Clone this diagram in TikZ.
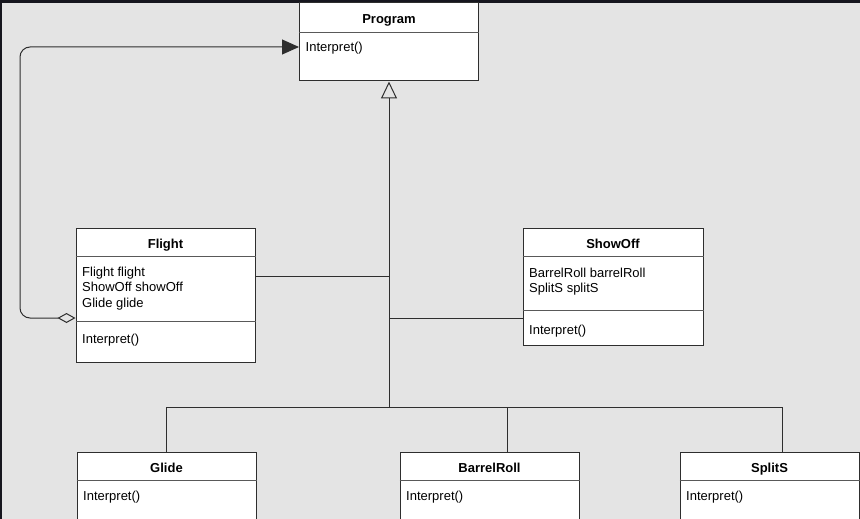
\documentclass[tikz,border=0pt]{standalone}
\usepackage{fontspec}
\setmainfont{Liberation Sans}
\usetikzlibrary{arrows.meta}
\definecolor{canvas}{HTML}{E4E4E4}
\definecolor{frameband}{HTML}{16161E}
\definecolor{edge}{HTML}{2E2E2E}
\tikzset{
  classbox/.style={draw=edge, line width=1pt, fill=white, minimum width=179pt, inner sep=0pt},
  classname/.style={font=\bfseries\fontsize{13}{15}\selectfont, anchor=base, inner sep=0pt},
  member/.style={font=\fontsize{13}{15.3}\selectfont, anchor=base west, align=left, inner sep=0pt},
  divider/.style={draw=black!65, line width=1pt},
  link/.style={draw=black!82, line width=1pt}
}
\def\classrule#1#2{\draw[divider] ([yshift=-#2]#1.north west) -- ([yshift=-#2]#1.north east);}

\begin{document}
\begin{tikzpicture}[x=1pt, y=-1pt]
		%%%%% START %%%%%
		
		\fill[canvas] (0, 0) rectangle (860, 519);
		\useasboundingbox (0, 0) rectangle (860, 519);
		\clip (0, 0) rectangle (860, 519);
		\fill[frameband] (0, 0) rectangle (860, 3);
		\fill[frameband] (0, 0) rectangle (1.5, 519);
		
		\node[classbox, minimum height=78pt] (program) at (389, 42) {};
		\node[classname] (programname) at ([yshift=-21pt]program.north) {Program};
		\classrule{program}{30pt}
		\node[member] (programop) at ([xshift=6.5pt, yshift=-49pt]program.north west) {Interpret()};
		
		\node[classbox, minimum height=134pt] (flight) at (165.5, 295) {};
		\node[classname] (flightname) at ([yshift=-21pt]flight.north) {Flight};
		\classrule{flight}{29pt}
		% base of a multi-line node sits on its last line
		\node[member] (flightattr) at ([xshift=6.5pt, yshift=-79.6pt]flight.north west) {Flight flight\\ShowOff showOff\\Glide glide};
		\classrule{flight}{94pt}
		\node[member] (flightop) at ([xshift=6.5pt, yshift=-116.3pt]flight.north west) {Interpret()};
		
		\node[classbox, minimum width=180pt, minimum height=117pt] (showoff) at (613, 286.5) {};
		\node[classname] (showoffname) at ([yshift=-21pt]showoff.north) {ShowOff};
		\classrule{showoff}{29pt}
		\node[member] (showoffattr) at ([xshift=6.5pt, yshift=-64.8pt]showoff.north west) {BarrelRoll barrelRoll\\SplitS splitS};
		\classrule{showoff}{82.5pt}
		\node[member] (showoffop) at ([xshift=6.5pt, yshift=-107.3pt]showoff.north west) {Interpret()};
		
		\node[classbox, minimum height=80pt] (glide) at (166.5, 492) {};
		\node[classname] (glidename) at ([yshift=-21pt]glide.north) {Glide};
		\classrule{glide}{29pt}
		\node[member] (glideop) at ([xshift=6.5pt, yshift=-49pt]glide.north west) {Interpret()};
		
		\node[classbox, minimum height=80pt] (barrelroll) at (489.5, 492) {};
		\node[classname] (barrelrollname) at ([yshift=-21pt]barrelroll.north) {BarrelRoll};
		\classrule{barrelroll}{29pt}
		\node[member] (barrelrollop) at ([xshift=6.5pt, yshift=-49pt]barrelroll.north west) {Interpret()};
		
		\node[classbox, minimum height=80pt] (splits) at (769.5, 492) {};
		\node[classname] (splitsname) at ([yshift=-21pt]splits.north) {SplitS};
		\classrule{splits}{29pt}
		\node[member] (splitsop) at ([xshift=6.5pt, yshift=-49pt]splits.north west) {Interpret()};
		
		% generalisation tree
		\coordinate (jflight) at (389, 276);
		\coordinate (jshowoff) at (389, 318);
		\coordinate (trunkfoot) at (389, 407);
		\coordinate (busglide) at (166, 407);
		\coordinate (busbarrel) at (507, 407);
		\coordinate (bussplit) at (782, 407);
		
		\draw[link, -{Triangle[open, length=17pt, width=16pt]}] (trunkfoot) -- (program.south);
		\draw[link] (flight.east |- jflight) -- (jflight);
		\draw[link] (jshowoff) -- (showoff.west |- jshowoff);
		\draw[link] (busglide) -- (bussplit);
		\draw[link] (busglide) -- (busglide |- glide.north);
		\draw[link] (busbarrel) -- (busbarrel |- barrelroll.north);
		\draw[link] (bussplit) -- (bussplit |- splits.north);
		
		% aggregation back to Program
		\coordinate (loopbottom) at (20, 318);
		\coordinate (looptop) at (20, 47);
		\draw[link, rounded corners=10pt, {Diamond[open, length=18pt, width=10pt]}-{Triangle[length=17pt, width=15pt]}] (flight.west |- loopbottom) -- (loopbottom) -- (looptop) -- (program.west |- looptop);
		
		%%%%% END %%%%%
	\end{tikzpicture}
\end{document}
